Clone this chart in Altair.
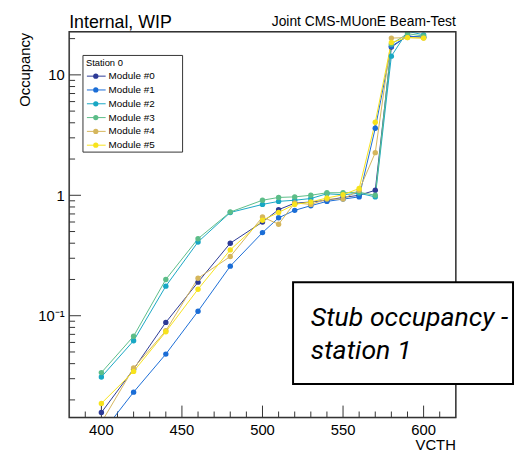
import altair as alt
import pandas as pd

# ---------------- data ----------------
vcth = [400, 420, 440, 460, 480, 500, 510, 520, 530, 540, 550, 560, 570, 580, 590, 600]
m0 = [0.0157, 0.036, 0.088, 0.19, 0.40, 0.60, 0.76, 0.86, 0.88, 0.91, 0.96, 1.00, 1.10, 17.0, 21.0, 20.5]
m1 = [0.0105, 0.0232, 0.048, 0.109, 0.258, 0.49, 0.65, 0.75, 0.82, 0.89, 0.93, 0.97, 3.6, 17.3, 21.0, 20.5]
m2 = [0.031, 0.062, 0.176, 0.41, 0.72, 0.84, 0.89, 0.91, 0.94, 1.03, 1.01, 1.04, 0.97, 14.3, 23.0, 21.5]
m3 = [0.0337, 0.0676, 0.20, 0.436, 0.726, 0.91, 0.96, 0.97, 1.00, 1.05, 1.05, 1.06, 1.00, 18.0, 22.0, 21.0]
m4 = [0.013, 0.0368, 0.075, 0.205, 0.31, 0.66, 0.575, 0.865, 0.84, 0.93, 0.93, 1.10, 2.26, 20.2, 20.4, 20.2]
m5 = [0.0187, 0.0345, 0.0735, 0.166, 0.352, 0.62, 0.72, 0.84, 0.88, 0.95, 1.01, 1.14, 4.04, 18.6, 20.4, 20.2]

modules = ["Module #0", "Module #1", "Module #2", "Module #3", "Module #4", "Module #5"]
colors = ["#2c3a96", "#1a6dd6", "#18a7c4", "#5cbd88", "#d5b65c", "#f7e31c"]
series = [m0, m1, m2, m3, m4, m5]

x_major = [400, 450, 500, 550, 600]
x_labels = ["400", "450", "500", "550", "600"]
x_minor = [390, 410, 420, 430, 440, 460, 470, 480, 490, 510, 520, 530, 540,
           560, 570, 580, 590, 610]
y_major = [0.1, 1, 10]
y_minor = [0.02, 0.03, 0.04, 0.05, 0.06, 0.07, 0.08, 0.09,
           0.2, 0.3, 0.4, 0.5, 0.6, 0.7, 0.8, 0.9,
           2, 3, 4, 5, 6, 7, 8, 9, 20]

x_domain = [380, 620]
y_domain = [0.0143, 22.8]

title_left = "Internal, WIP"
title_right = "Joint CMS-MUonE Beam-Test"
x_title = "VCTH"
y_title = "Occupancy"
legend_title = "Station 0"
note_lines = ["Stub occupancy -", "station 1"]

# ---------------- build ----------------
W, H = 392, 391
FONT = "Liberation Sans"

rows = []
for name, vals in zip(modules, series):
    for x, v in zip(vcth, vals):
        rows.append({"vcth": x, "occ": v, "module": name})
df = pd.DataFrame(rows)

xs = alt.Scale(domain=x_domain, nice=False, zero=False)
ys = alt.Scale(type="log", domain=y_domain, nice=False)
cs = alt.Scale(domain=modules, range=colors)

lines = alt.Chart(df).mark_line(strokeWidth=1, clip=True).encode(
    x=alt.X("vcth:Q", scale=xs, axis=None),
    y=alt.Y("occ:Q", scale=ys, axis=None),
    color=alt.Color("module:N", scale=cs, legend=None),
)

points = alt.Chart(df).mark_circle(size=30, opacity=1, clip=True).encode(
    x=alt.X("vcth:Q", scale=xs, axis=None),
    y=alt.Y("occ:Q", scale=ys, title=None,
            axis=alt.Axis(values=y_major, ticks=False, tickSize=0, domain=False, grid=False,
                          labelFont=FONT, labelFontSize=15, labelColor="black",
                          labelPadding=5, labelFlush=False,
                          labelExpr="datum.value < 0.5 ? '10⁻¹' : (datum.value < 5 ? '1' : '10')")),
    color=alt.Color("module:N", scale=cs, legend=None),
)

one = alt.Data(values=[{"a": 1}])

frame = alt.Chart(one).mark_rect(fill="transparent", stroke="#333", strokeWidth=1.5).encode(
    x=alt.value(0), x2=alt.value(W), y=alt.value(0), y2=alt.value(H))

xmaj = alt.Chart(pd.DataFrame({"v": x_major})).mark_rule(color="#333", strokeWidth=1).encode(
    x=alt.X("v:Q", scale=xs, axis=None), y=alt.value(H), y2=alt.value(H - 12))
xmin = alt.Chart(pd.DataFrame({"v": x_minor})).mark_rule(color="#333", strokeWidth=1).encode(
    x=alt.X("v:Q", scale=xs, axis=None), y=alt.value(H), y2=alt.value(H - 6))
ymaj = alt.Chart(pd.DataFrame({"v": y_major})).mark_rule(color="#333", strokeWidth=1).encode(
    y=alt.Y("v:Q", scale=ys, axis=None), x=alt.value(0), x2=alt.value(12))
ymin = alt.Chart(pd.DataFrame({"v": y_minor})).mark_rule(color="#333", strokeWidth=1).encode(
    y=alt.Y("v:Q", scale=ys, axis=None), x=alt.value(0), x2=alt.value(6))

xlab = alt.Chart(pd.DataFrame({"v": x_major, "t": x_labels})).mark_text(
    font=FONT, fontSize=15, align="center", baseline="top", color="black").encode(
    x=alt.X("v:Q", scale=xs, axis=None), y=alt.value(H + 6), text="t:N")

t_left = alt.Chart(one).mark_text(text=title_left, font=FONT, fontSize=18, align="left",
                                  baseline="alphabetic", color="black").encode(
    x=alt.value(0), y=alt.value(-4))
t_right = alt.Chart(one).mark_text(text=title_right, font=FONT, fontSize=14, align="right",
                                   baseline="alphabetic", color="black").encode(
    x=alt.value(W), y=alt.value(-6))
t_x = alt.Chart(one).mark_text(text=x_title, font=FONT, fontSize=15, align="right",
                               baseline="alphabetic", color="black").encode(
    x=alt.value(W), y=alt.value(424))
t_y = alt.Chart(one).mark_text(text=y_title, font=FONT, fontSize=15, align="right",
                               baseline="alphabetic", angle=270, color="black").encode(
    x=alt.value(-40), y=alt.value(1))

# legend
ldf = pd.DataFrame({"module": modules, "idx": list(range(len(modules)))})
ly = alt.Scale(domain=[0, 5], range=[45, 115])
leg_box = alt.Chart(one).mark_rect(fill="white", stroke="#333", strokeWidth=1).encode(
    x=alt.value(14), x2=alt.value(115), y=alt.value(24), y2=alt.value(122))
leg_title = alt.Chart(one).mark_text(text=legend_title, font=FONT, fontSize=9.5, align="left",
                                     baseline="middle", color="black").encode(
    x=alt.value(17), y=alt.value(32))
leg_rule = alt.Chart(ldf).mark_rule(strokeWidth=1).encode(
    x=alt.value(18), x2=alt.value(37),
    y=alt.Y("idx:Q", scale=ly, axis=None),
    color=alt.Color("module:N", scale=cs, legend=None))
leg_pt = alt.Chart(ldf).mark_circle(size=28, opacity=1).encode(
    x=alt.value(27),
    y=alt.Y("idx:Q", scale=ly, axis=None),
    color=alt.Color("module:N", scale=cs, legend=None))
leg_txt = alt.Chart(ldf).mark_text(font=FONT, fontSize=10, align="left", baseline="middle",
                                   color="black").encode(
    x=alt.value(40),
    y=alt.Y("idx:Q", scale=ly, axis=None),
    text="module:N")

# annotation box
note_box = alt.Chart(one).mark_rect(fill="white", stroke="black", strokeWidth=2).encode(
    x=alt.value(227), x2=alt.value(450), y=alt.value(254), y2=alt.value(357))
note1 = alt.Chart(one).mark_text(text=note_lines[0], font="Roboto", fontStyle="italic",
                                 fontSize=27, align="left", baseline="alphabetic",
                                 color="black").encode(x=alt.value(245), y=alt.value(298))
note2 = alt.Chart(one).mark_text(text=note_lines[1], font="Roboto", fontStyle="italic",
                                 fontSize=27, align="left", baseline="alphabetic",
                                 color="black").encode(x=alt.value(245), y=alt.value(332))

chart = alt.layer(
    xmaj, xmin, ymaj, ymin, lines, points, frame, xlab,
    leg_box, leg_title, leg_rule, leg_pt, leg_txt,
    t_left, t_right, t_x, t_y,
    note_box, note1, note2,
).resolve_scale(y="independent").properties(
    width=W, height=H,
    autosize=alt.AutoSizeParams(type="none"),
    padding={"left": 62, "top": 21, "right": 60, "bottom": 36},
).configure_view(stroke=None).configure(background="white")

chart.save("out.html", embed_options={"renderer": "svg", "actions": False})
